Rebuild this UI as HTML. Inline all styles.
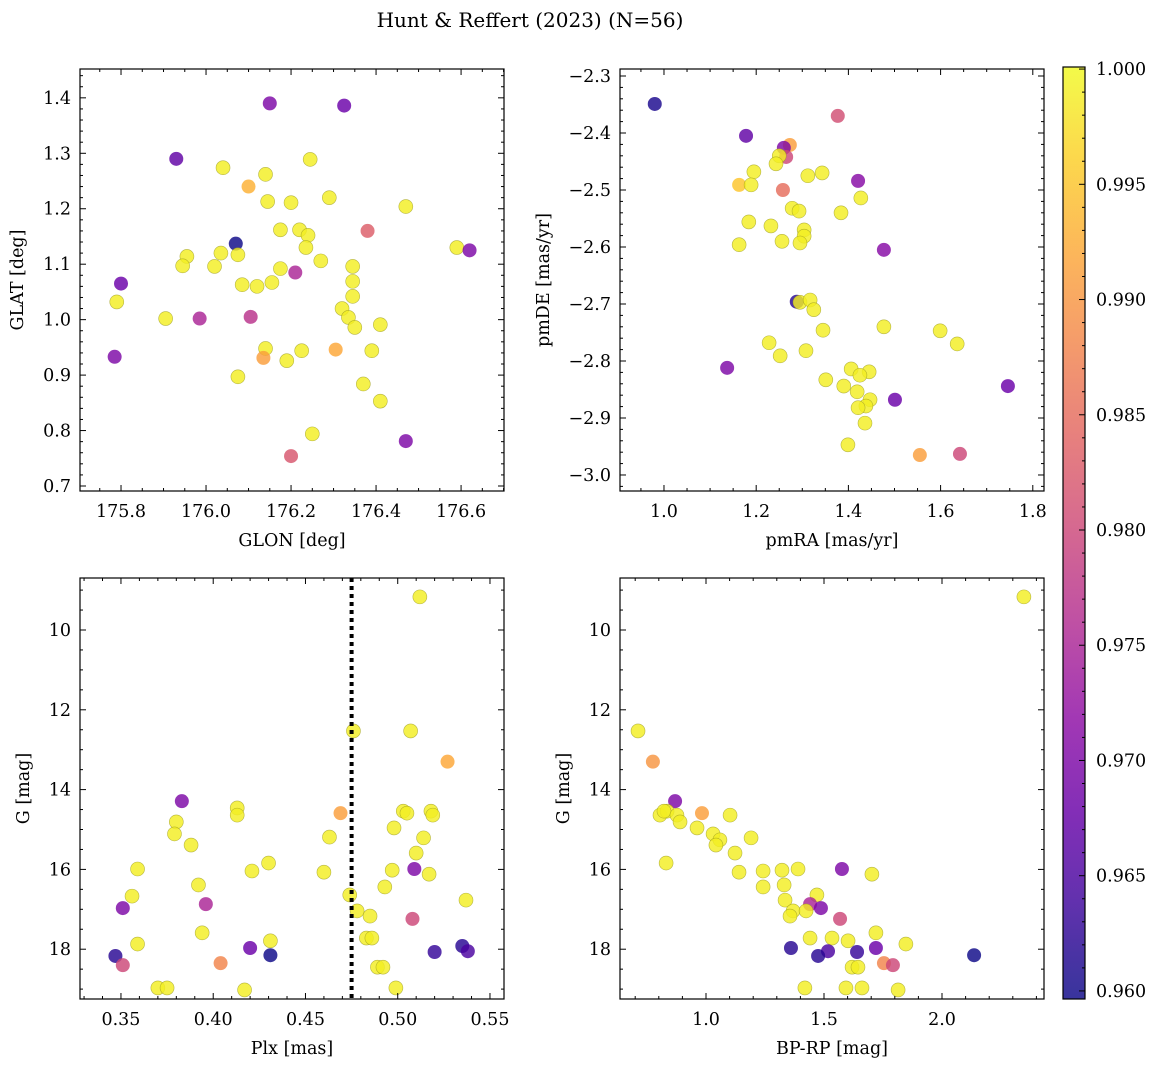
<!DOCTYPE html>
<html><head><meta charset="utf-8"><style>
html,body{margin:0;padding:0;background:#fff;}
svg{display:block;font-family:"DejaVu Serif","Liberation Serif",serif;}
</style></head><body>
<svg id="fig" width="1161" height="1067" viewBox="0 0 1161 1067" xmlns="http://www.w3.org/2000/svg">
<text x="530" y="27" font-size="20" text-anchor="middle">Hunt &amp; Reffert (2023) (N=56)</text>
</svg>
<script>
// Panel 1: GLON vs GLAT
const p1Lon=[176.15,176.325,175.93,176.04,176.10,176.14,176.245,176.29,176.145,176.2,176.47,176.22,176.24,176.175,176.07,176.38,176.59,176.62,175.955,175.945,176.035,176.075,176.02,176.235,176.27,176.345,176.175,176.21,175.80,176.085,176.12,176.155,176.345,176.345,175.79,175.905,175.985,176.105,176.32,176.335,176.35,176.41,175.785,176.14,176.225,176.135,176.19,176.305,176.39,176.075,176.37,176.41,176.25,176.2,176.47];
const p1Lat=[1.39,1.386,1.29,1.274,1.24,1.262,1.289,1.22,1.213,1.211,1.204,1.162,1.152,1.162,1.137,1.16,1.13,1.125,1.114,1.097,1.12,1.117,1.096,1.13,1.106,1.096,1.092,1.085,1.065,1.063,1.06,1.067,1.069,1.042,1.032,1.002,1.002,1.005,1.02,1.004,0.986,0.991,0.933,0.948,0.944,0.931,0.926,0.946,0.944,0.897,0.884,0.853,0.794,0.754,0.781];
const p1Prob=[0.970,0.968,0.967,0.999,0.993,0.999,0.999,0.999,0.999,0.999,0.999,0.999,0.999,0.999,0.960,0.983,0.999,0.970,0.999,0.999,0.999,0.999,0.999,0.999,0.999,0.999,0.999,0.975,0.968,0.999,0.999,0.999,0.999,0.999,0.999,0.999,0.975,0.977,0.999,0.999,0.999,0.999,0.970,0.999,0.999,0.991,0.999,0.992,0.999,0.999,0.999,0.999,0.999,0.982,0.970];
// Panel 2: pmRA vs pmDE
const p2RA=[0.98,1.377,1.178,1.273,1.26,1.265,1.25,1.243,1.195,1.312,1.343,1.421,1.163,1.189,1.258,1.427,1.278,1.293,1.384,1.184,1.232,1.304,1.304,1.256,1.295,1.163,1.477,1.288,1.295,1.317,1.325,1.345,1.477,1.599,1.636,1.228,1.308,1.252,1.137,1.406,1.445,1.425,1.351,1.39,1.419,1.746,1.447,1.501,1.438,1.421,1.436,1.399,1.555,1.642];
const p2DE=[-2.349,-2.37,-2.405,-2.421,-2.426,-2.442,-2.44,-2.454,-2.468,-2.475,-2.47,-2.484,-2.491,-2.491,-2.5,-2.514,-2.532,-2.537,-2.54,-2.556,-2.563,-2.57,-2.581,-2.59,-2.593,-2.596,-2.605,-2.696,-2.697,-2.693,-2.71,-2.746,-2.74,-2.747,-2.77,-2.768,-2.782,-2.791,-2.812,-2.814,-2.819,-2.825,-2.833,-2.844,-2.854,-2.844,-2.868,-2.868,-2.879,-2.882,-2.909,-2.947,-2.965,-2.963];
const p2Prob=[0.961,0.981,0.967,0.991,0.970,0.980,0.999,0.999,0.999,0.999,0.999,0.971,0.995,0.999,0.985,0.999,0.999,0.999,0.999,0.999,0.999,0.999,0.999,0.999,0.999,0.999,0.971,0.962,0.999,0.999,0.999,0.999,0.999,0.999,0.999,0.999,0.999,0.999,0.970,0.999,0.999,0.999,0.999,0.999,0.999,0.968,0.999,0.968,0.999,0.999,0.999,0.999,0.991,0.980];
// Panel 3: Plx vs G
const p3Plx=[0.512,0.476,0.507,0.527,0.383,0.413,0.413,0.38,0.469,0.503,0.505,0.518,0.519,0.498,0.379,0.463,0.514,0.388,0.51,0.43,0.359,0.421,0.497,0.509,0.517,0.46,0.392,0.493,0.356,0.474,0.537,0.396,0.351,0.478,0.485,0.508,0.394,0.359,0.431,0.483,0.486,0.42,0.535,0.538,0.52,0.347,0.431,0.351,0.404,0.489,0.492,0.37,0.375,0.417,0.499];
const p3G=[9.17,12.53,12.53,13.3,14.29,14.46,14.64,14.81,14.59,14.54,14.59,14.54,14.64,14.96,15.11,15.19,15.21,15.39,15.59,15.84,15.99,16.04,16.02,15.99,16.12,16.07,16.39,16.44,16.67,16.64,16.77,16.87,16.97,17.04,17.17,17.24,17.59,17.87,17.79,17.72,17.72,17.97,17.92,18.05,18.07,18.17,18.15,18.4,18.35,18.45,18.45,18.97,18.97,19.02,18.97];
const p3Prob=[0.999,0.999,0.999,0.992,0.970,0.999,0.999,0.999,0.991,0.999,0.999,0.999,0.999,0.999,0.999,0.999,0.999,0.999,0.999,0.999,0.999,0.999,0.999,0.970,0.999,0.999,0.999,0.999,0.999,0.999,0.999,0.975,0.970,0.999,0.999,0.980,0.999,0.999,0.999,0.999,0.999,0.968,0.962,0.965,0.963,0.962,0.960,0.980,0.988,0.999,0.999,0.999,0.999,0.999,0.999];
const plxLine=0.475;
// Panel 4: BP-RP vs G
const p4BR=[2.347,0.712,0.775,0.869,0.805,0.835,0.822,0.877,0.983,1.102,0.89,0.962,1.03,1.059,1.042,1.191,1.123,0.831,1.14,1.242,1.322,1.39,1.576,1.703,1.242,1.331,1.47,1.335,1.441,1.487,1.369,1.424,1.356,1.568,1.72,1.441,1.534,1.602,1.847,1.36,1.72,1.64,1.517,1.475,2.136,1.754,1.792,1.619,1.644,1.419,1.593,1.661,1.814];
const p4G=[9.17,12.53,13.3,14.29,14.64,14.54,14.54,14.64,14.59,14.64,14.81,14.96,15.11,15.26,15.39,15.21,15.59,15.84,16.07,16.04,16.02,15.99,15.99,16.12,16.44,16.39,16.64,16.77,16.87,16.97,17.04,17.04,17.17,17.24,17.59,17.72,17.72,17.79,17.87,17.97,17.97,18.07,18.05,18.17,18.15,18.35,18.4,18.45,18.45,18.97,18.97,18.97,19.02];
const p4Prob=[0.999,0.999,0.990,0.970,0.999,0.999,0.999,0.999,0.991,0.999,0.999,0.999,0.999,0.999,0.999,0.999,0.999,0.999,0.999,0.999,0.999,0.999,0.970,0.999,0.999,0.999,0.999,0.999,0.975,0.970,0.999,0.999,0.999,0.980,0.999,0.999,0.999,0.999,0.999,0.962,0.968,0.963,0.965,0.962,0.960,0.988,0.980,0.999,0.999,0.999,0.999,0.999,0.999];
const cbTicks=[0.960,0.965,0.970,0.975,0.980,0.985,0.990,0.995,1.000];

const NS="http://www.w3.org/2000/svg";
const svg=document.getElementById('fig');
function mk(tag,attrs,parent){const e=document.createElementNS(NS,tag);for(const k in attrs)e.setAttribute(k,attrs[k]);(parent||svg).appendChild(e);return e;}
const stops=["#0d0887","#41049d","#6a00a8","#8f0da4","#b12a90","#cc4778","#e16462","#f2844b","#fca636","#fcce25","#f0f921"];
function hex(h){return [parseInt(h.slice(1,3),16),parseInt(h.slice(3,5),16),parseInt(h.slice(5,7),16)];}
function plasma(t){t=Math.max(0,Math.min(1,t));const f=t*10,i=Math.min(9,Math.floor(f)),u=f-i;const a=hex(stops[i]),b=hex(stops[i+1]);return `rgb(${a.map((v,k)=>Math.round(v+(b[k]-v)*u)).join(',')})`;}
const CMIN=0.96,CMAX=1.0;
function col(p){return plasma((p-CMIN)/(CMAX-CMIN));}
const FS=17.5;

function panel(cfg){
  const g=mk('g',{});
  
  
  const {x0,x1,y0,y1,xd,yd}=cfg;
  const sx=v=>x0+(v-xd[0])/(xd[1]-xd[0])*(x1-x0);
  const sy=cfg.inv ? (v=>y0+(v-yd[0])/(yd[1]-yd[0])*(y1-y0)) : (v=>y1-(v-yd[0])/(yd[1]-yd[0])*(y1-y0));
  for(let i=0;i<cfg.xs.length;i++){
    const c=mk('circle',{cx:sx(cfg.xs[i]),cy:sy(cfg.ys[i]),r:7,fill:col(cfg.cs[i]),'fill-opacity':0.82,stroke:cfg.cs[i]>0.997?'#9a9a20':'none','stroke-width':0.6,'stroke-opacity':0.7},g);
    
    
  }
  if(cfg.vline!==undefined){
    const l=mk('line',{x1:sx(cfg.vline),x2:sx(cfg.vline),y1:y0,y2:y1,stroke:'#000','stroke-width':4,'stroke-dasharray':'4,4'},g);
    
    
  }
  const fr=mk('rect',{x:x0,y:y0,width:x1-x0,height:y1-y0,fill:'none',stroke:'#000','stroke-width':1.2},g);
  
  
  const eps=1e-9;
  for(let v=Math.ceil(xd[0]/cfg.xmin-eps)*cfg.xmin;v<=xd[1]+eps;v+=cfg.xmin){
    const X=sx(v);const maj=Math.abs(v/cfg.xmaj-Math.round(v/cfg.xmaj))<1e-4;const L=maj?6:3;
    mk('line',{x1:X,x2:X,y1:y1,y2:y1-L,stroke:'#000','stroke-width':1},g);
    mk('line',{x1:X,x2:X,y1:y0,y2:y0+L,stroke:'#000','stroke-width':1},g);
  }
  for(let v=Math.ceil(yd[0]/cfg.ymin-eps)*cfg.ymin;v<=yd[1]+eps;v+=cfg.ymin){
    const Y=sy(v);const maj=Math.abs(v/cfg.ymaj-Math.round(v/cfg.ymaj))<1e-4;const L=maj?6:3;
    mk('line',{x1:x0,x2:x0+L,y1:Y,y2:Y,stroke:'#000','stroke-width':1},g);
    mk('line',{x1:x1,x2:x1-L,y1:Y,y2:Y,stroke:'#000','stroke-width':1},g);
  }
  cfg.xticks.forEach(v=>{const t=mk('text',{x:sx(v),y:y1+26,'font-size':FS,'text-anchor':'middle'},g);t.textContent=v.toFixed(cfg.xdec);
    
    });
  cfg.yticks.forEach(v=>{const t=mk('text',{x:x0-9,y:sy(v)+6,'font-size':FS,'text-anchor':'end'},g);t.textContent=(v<0?'\u2212'+Math.abs(v).toFixed(cfg.ydec):v.toFixed(cfg.ydec));
    
    });
  const xl=mk('text',{x:(x0+x1)/2,y:y1+55,'font-size':FS,'text-anchor':'middle'},g);xl.textContent=cfg.xlabel;
  
  
  const yx=cfg.ylx, yy=(y0+y1)/2;
  const yl=mk('text',{x:yx,y:yy,'font-size':FS,'text-anchor':'middle',transform:`rotate(-90 ${yx} ${yy})`},g);yl.textContent=cfg.ylabel;
  
  
}
panel({name:'glon-glat-panel',x0:80,x1:504,y0:69,y1:491,xd:[175.7035,176.701],yd:[0.691,1.452],xs:p1Lon,ys:p1Lat,cs:p1Prob,xmaj:0.2,xmin:0.05,ymaj:0.1,ymin:0.02,xticks:[175.8,176.0,176.2,176.4,176.6],xdec:1,yticks:[0.7,0.8,0.9,1.0,1.1,1.2,1.3,1.4],ydec:1,xlabel:'GLON [deg]',ylabel:'GLAT [deg]',ylx:23});
panel({name:'pm-panel',x0:620,x1:1044,y0:69,y1:491,xd:[0.9046,1.8243],yd:[-3.0281,-2.2877],xs:p2RA,ys:p2DE,cs:p2Prob,xmaj:0.2,xmin:0.05,ymaj:0.1,ymin:0.02,xticks:[1.0,1.2,1.4,1.6,1.8],xdec:1,yticks:[-3.0,-2.9,-2.8,-2.7,-2.6,-2.5,-2.4,-2.3],ydec:1,xlabel:'pmRA [mas/yr]',ylabel:'pmDE [mas/yr]',ylx:549});
panel({name:'plx-g-panel',x0:80,x1:504,y0:578,y1:999,xd:[0.3278,0.5576],yd:[8.697,19.248],inv:true,xs:p3Plx,ys:p3G,cs:p3Prob,xmaj:0.05,xmin:0.01,ymaj:2,ymin:0.5,xticks:[0.35,0.40,0.45,0.50,0.55],xdec:2,yticks:[10,12,14,16,18],ydec:0,xlabel:'Plx [mas]',ylabel:'G [mag]',ylx:29,vline:plxLine});
panel({name:'color-g-panel',x0:620,x1:1044,y0:578,y1:999,xd:[0.6356,2.4322],yd:[8.697,19.248],inv:true,xs:p4BR,ys:p4G,cs:p4Prob,xmaj:0.5,xmin:0.1,ymaj:2,ymin:0.5,xticks:[1.0,1.5,2.0],xdec:1,yticks:[10,12,14,16,18],ydec:0,xlabel:'BP-RP [mag]',ylabel:'G [mag]',ylx:569});

// Colorbar
(function(){
  const cx0=1063,cx1=1085,cy0=67,cy1=999,vmin=0.95965,vmax=1.00009;
  const g=mk('g',{});
  
  
  const defs=mk('defs',{},g);
  const grad=mk('linearGradient',{id:'cbgrad',x1:0,y1:1,x2:0,y2:0},defs);
  for(let k=0;k<=20;k++){const t=k/20;const v=vmin+t*(vmax-vmin);mk('stop',{offset:t,'stop-color':col(v)},grad);}
  const r=mk('rect',{x:cx0,y:cy0,width:cx1-cx0,height:cy1-cy0,fill:'url(#cbgrad)','fill-opacity':0.82},g);
  
  
  mk('rect',{x:cx0,y:cy0,width:cx1-cx0,height:cy1-cy0,fill:'none',stroke:'#000','stroke-width':1.2},g);
  const sy=v=>cy1-(v-vmin)/(vmax-vmin)*(cy1-cy0);
  for(let i=960;i<=1000;i++){const v=i/1000;const maj=i%5===0;const Y=sy(v);
    mk('line',{x1:cx1,x2:cx1-(maj?6:3),y1:Y,y2:Y,stroke:'#000','stroke-width':1},g);}
  cbTicks.forEach(v=>{const t=mk('text',{x:cx1+11,y:sy(v)+6,'font-size':FS},g);t.textContent=v.toFixed(3);
    
    });
})();
</script>
</body></html>
